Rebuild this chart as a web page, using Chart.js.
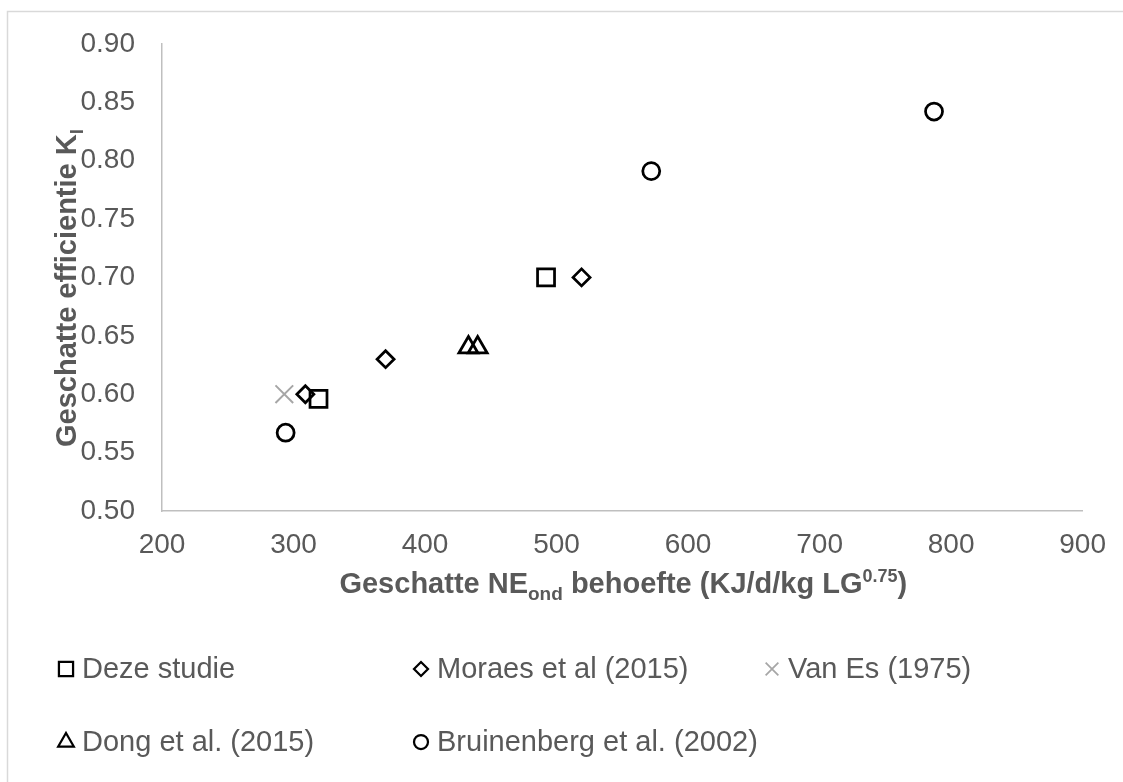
<!DOCTYPE html>
<html>
<head>
<meta charset="utf-8">
<script src="https://cdn.jsdelivr.net/npm/chart.js@4.4.1/dist/chart.umd.min.js"></script>
<style>
html, body { margin: 0; padding: 0; background: #fff; }
canvas { display: block; }
</style>
</head>
<body>
<canvas id="grafiek" width="1123" height="782"></canvas>
<script>
// waarden
const reeksen = ['Deze studie', 'Moraes et al (2015)', 'Van Es (1975)', 'Dong et al. (2015)', 'Bruinenberg et al. (2002)'];

const dezeX = [319, 492];
const dezeY = [0.596, 0.70];
const moraesX = [309, 370, 519];
const moraesY = [0.60, 0.63, 0.70];
const vanEsX = [293];
const vanEsY = [0.60];
const dongX = [433, 440];
const dongY = [0.64, 0.64];
const bruinX = [294, 572, 787];
const bruinY = [0.567, 0.791, 0.842];

const xTicks = [200, 300, 400, 500, 600, 700, 800, 900];
const yTicks = [0.50, 0.55, 0.60, 0.65, 0.70, 0.75, 0.80, 0.85, 0.90];

const grijs = '#595959';
const font = '"Liberation Sans", Arial, sans-serif';

function punten(xs, ys) {
    let lijst = [];
    for (let i = 0; i < xs.length; i++) {
        lijst.push({x: xs[i], y: ys[i]});
    }
    return lijst;
}

const stijlen = [
    {pointStyle: 'rect', radius: 12, borderWidth: 2.75, color: '#000', legR: 10, legW: 2.25},
    {pointStyle: 'rectRot', radius: 8.5, borderWidth: 2.75, color: '#000', legR: 7, legW: 2.25},
    {pointStyle: 'crossRot', radius: 12.5, borderWidth: 2, color: '#a6a6a6', legR: 9, legW: 1.75},
    {pointStyle: 'triangle', radius: 11, borderWidth: 2.75, color: '#000', legR: 9, legW: 2.25},
    {pointStyle: 'circle', radius: 8.5, borderWidth: 2.75, color: '#000', legR: 7, legW: 2.25}
];

const alleData = [
    punten(dezeX, dezeY),
    punten(moraesX, moraesY),
    punten(vanEsX, vanEsY),
    punten(dongX, dongY),
    punten(bruinX, bruinY)
];

// tekst met sub/superscript in stukjes tekenen
function tekstDelen(ctx, delen) {
    let breedte = 0;
    delen.forEach(d => {
        ctx.font = 'bold ' + d.size + 'px ' + font;
        d.w = ctx.measureText(d.t).width;
        breedte += d.w;
    });
    return breedte;
}

function tekenDelen(ctx, delen, x, y) {
    let b = tekstDelen(ctx, delen);
    let cx = x - b / 2;
    delen.forEach(d => {
        ctx.font = 'bold ' + d.size + 'px ' + font;
        ctx.fillText(d.t, cx, y + d.dy);
        cx += d.w;
    });
}

const extras = {
    id: 'extras',
    beforeDraw(chart) {
        const ctx = chart.ctx;
        ctx.save();
        ctx.strokeStyle = '#d9d9d9';
        ctx.lineWidth = 1.5;
        ctx.beginPath();
        ctx.moveTo(7.5, 800);
        ctx.lineTo(7.5, 11.5);
        ctx.lineTo(1130, 11.5);
        ctx.stroke();
        ctx.restore();
    },
    afterDraw(chart) {
        const ctx = chart.ctx;
        const area = chart.chartArea;
        ctx.save();
        ctx.fillStyle = grijs;
        ctx.textAlign = 'left';
        ctx.textBaseline = 'alphabetic';

        // x-as titel
        tekenDelen(ctx, [
            {t: 'Geschatte NE', size: 29, dy: 0},
            {t: 'ond', size: 19, dy: 7},
            {t: ' behoefte (KJ/d/kg LG', size: 29, dy: 0},
            {t: '0.75', size: 18, dy: -11},
            {t: ')', size: 29, dy: 0}
        ], (area.left + area.right) / 2 + 1, 593);

        // y-as titel
        ctx.save();
        ctx.translate(76, 288);
        ctx.rotate(-Math.PI / 2);
        tekenDelen(ctx, [
            {t: 'Geschatte efficientie K', size: 29, dy: 0},
            {t: 'l', size: 19, dy: 7}
        ], 0, 0);
        ctx.restore();

        // legenda
        const kolommen = [66, 421, 772, 66, 421];
        const rijen = [669, 669, 669, 742, 742];
        ctx.font = '29px ' + font;
        ctx.textBaseline = 'middle';
        for (let i = 0; i < reeksen.length; i++) {
            const s = stijlen[i];
            ctx.strokeStyle = s.color;
            ctx.fillStyle = 'rgba(0,0,0,0)';
            ctx.lineWidth = s.legW;
            Chart.helpers.drawPoint(ctx, {pointStyle: s.pointStyle, radius: s.legR, rotation: 0, borderWidth: s.legW}, kolommen[i], rijen[i]);
            ctx.fillStyle = grijs;
            ctx.fillText(reeksen[i], kolommen[i] + 16, rijen[i] + 1);
        }
        ctx.restore();
    }
};

const ctx = document.getElementById('grafiek');
const grafiek = new Chart(ctx, {
    type: 'scatter',
    data: {
        datasets: reeksen.map((naam, i) => ({
            label: naam,
            data: alleData[i],
            pointStyle: stijlen[i].pointStyle,
            pointRadius: stijlen[i].radius,
            pointHoverRadius: stijlen[i].radius,
            pointBorderWidth: stijlen[i].borderWidth,
            borderColor: stijlen[i].color,
            backgroundColor: 'rgba(0,0,0,0)',
            showLine: false
        }))
    },
    options: {
        responsive: false,
        animation: false,
        layout: {
            padding: {left: 0, top: 41, right: 38, bottom: 211}
        },
        plugins: {
            legend: {display: false},
            tooltip: {enabled: false}
        },
        scales: {
            x: {
                type: 'linear',
                min: 200,
                max: 900,
                afterBuildTicks: s => { s.ticks = xTicks.map(v => ({value: v})); },
                afterFit: s => { s.height = 60; },
                grid: {display: false, drawTicks: false},
                border: {display: true, color: '#bfbfbf', width: 1.5},
                ticks: {
                    padding: 17,
                    color: grijs,
                    font: {family: font, size: 28},
                    callback: v => String(v)
                }
            },
            y: {
                type: 'linear',
                min: 0.5,
                max: 0.9,
                afterBuildTicks: s => { s.ticks = yTicks.map(v => ({value: v})); },
                afterFit: s => { s.width = 162; },
                grid: {display: false, drawTicks: false},
                border: {display: true, color: '#bfbfbf', width: 1.5},
                ticks: {
                    padding: 27,
                    color: grijs,
                    font: {family: font, size: 28},
                    callback: v => v.toFixed(2)
                }
            }
        }
    },
    plugins: [extras]
});
</script>
</body>
</html>
